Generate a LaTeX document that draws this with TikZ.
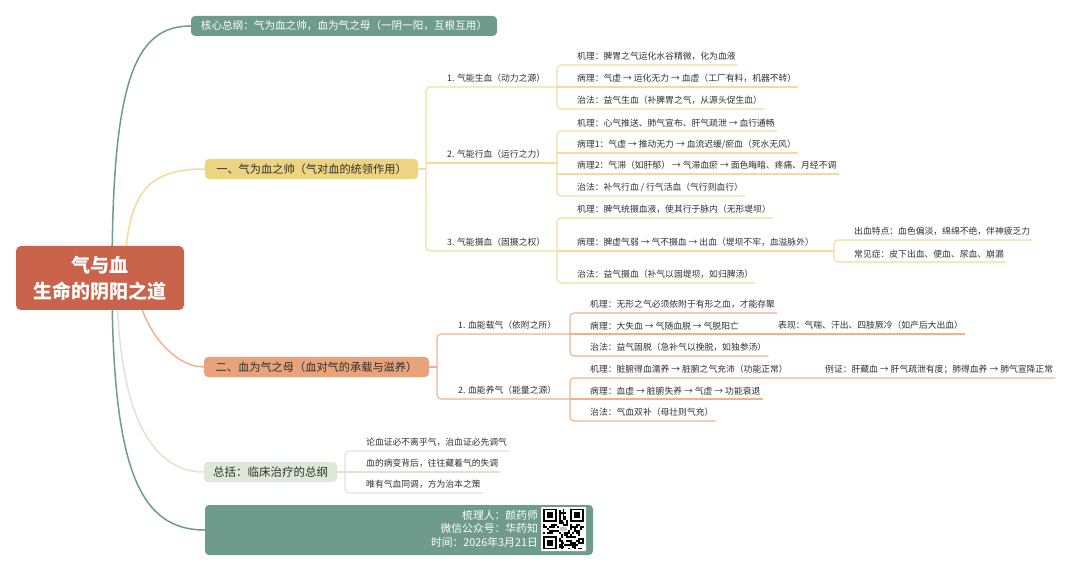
\documentclass[tikz,border=0pt]{standalone}
\usepackage{fontspec}
\setmainfont{Noto Sans CJK SC}
\usetikzlibrary{backgrounds}

\definecolor{teal0}{RGB}{111,155,140}
\definecolor{root0}{RGB}{201,99,76}
\definecolor{yel0}{RGB}{238,211,128}
\definecolor{yel1}{RGB}{242,220,156}
\definecolor{org0}{RGB}{233,163,122}
\definecolor{org1}{RGB}{238,178,142}
\definecolor{sum0}{RGB}{222,232,215}
\definecolor{sum1}{RGB}{220,228,216}
\definecolor{ink}{RGB}{48,48,48}

\tikzset{
  box/.style={rounded corners=4pt, inner xsep=8pt, inner ysep=0pt, minimum height=20pt},
  leaf/.style={anchor=south west, inner xsep=2pt, inner ysep=4pt, text=ink,
    font=\fontsize{8.8pt}{10pt}\selectfont},
  yline/.style={draw=yel1, line width=1.1pt, rounded corners=4pt},
  oline/.style={draw=org1, line width=1.1pt, rounded corners=4pt},
  sline/.style={draw=sum1, line width=1.1pt, rounded corners=4pt},
  curve/.style={line width=1.5pt},
}

\begin{document}
\begin{tikzpicture}[x=1pt,y=-1pt]
  \useasboundingbox (0,0) rectangle (1080,572);

  % root and first level
  \node[fill=root0, rounded corners=5pt, minimum width=168pt, minimum height=64pt, align=center,
    text=white, font=\fontsize{19pt}{26pt}\selectfont\bfseries] (root) at (100,278) {气与血\\生命的阴阳之道};
  \node[box, fill=teal0, text=white, minimum width=306pt, font=\fontsize{10.6pt}{12pt}\selectfont] (top) at (344,26)
    {核心总纲：气为血之帅，血为气之母（一阴一阳，互根互用）};
  \node[box, fill=yel0, text=ink, minimum width=213pt, font=\fontsize{11.2pt}{13pt}\selectfont] (b1) at (311.5,169)
    {一、气为血之帅（气对血的统领作用）\hspace{4pt}};
  \node[box, fill=org0, text=ink, minimum width=225pt, font=\fontsize{11.2pt}{13pt}\selectfont] (b2) at (316.5,367)
    {二、血为气之母（血对气的承载与滋养）\hspace{4pt}};
  \node[box, fill=sum0, text=ink, minimum width=133pt, font=\fontsize{11.5pt}{13pt}\selectfont] (sum) at (270.5,472)
    {总括：临床治疗的总纲};
  \node[fill=teal0, rounded corners=4pt, minimum width=388pt, minimum height=50pt] (foot) at (399,530) {};
  \node[anchor=east, align=right, text=white, inner sep=0pt, font=\fontsize{10.8pt}{13.5pt}\selectfont] (info) at (538,528.5)
    {梳理人：颜药师\\微信公众号：华药知\\时间：2026年3月21日};

  % qr code
  \node[fill=white, rounded corners=1pt, minimum width=45pt, minimum height=44pt, inner sep=0pt] (qr) at (563.5,529) {};
  \coordinate (q0) at (543,508.5);
  \pgfmathsetseed{17}
  \foreach \i in {0,...,20}{
    \foreach \j in {0,...,20}{
      \pgfmathrandominteger{\r}{0}{1}
      \ifnum\r=1 \fill ([shift={(\i*1.95,\j*1.95)}]q0) rectangle ++(1.95,1.95); \fi
    }
  }
  \foreach \a/\b in {0/0,14/0,0/14}{
    \fill[white] ([shift={(\a*1.95-1.95,\b*1.95-1.95)}]q0) rectangle ++(17.55,17.55);
    \fill ([shift={(\a*1.95,\b*1.95)}]q0) rectangle ++(13.65,13.65);
    \fill[white] ([shift={(\a*1.95+1.95,\b*1.95+1.95)}]q0) rectangle ++(9.75,9.75);
    \fill ([shift={(\a*1.95+3.9,\b*1.95+3.9)}]q0) rectangle ++(5.85,5.85);
  }
  \fill[white] ([shift={(8*1.95,9*1.95)}]q0) rectangle ++(9.75,5.85);
  \fill[gray!45, rounded corners=1pt] ([shift={(8.6*1.95,9.6*1.95)}]q0) rectangle ++(7.4,3.5);

  % curves from the root
  \begin{scope}[on background layer]
    \draw[curve, teal0] ([xshift=12pt]root.center) .. controls +(0,-198) and +(-56,0) .. (top.west);
    \draw[curve, teal0] ([xshift=12pt]root.center) .. controls +(0,192) and +(-65,0) .. (foot.west);
    \draw[curve, yel1] ([xshift=25pt]root.center) .. controls +(0,-88) and +(-55,0) .. (b1.west);
    \draw[curve, org1] ([xshift=35pt]root.center) .. controls +(5,52) and +(-29,0) .. (b2.west);
    \draw[curve, sum1] ([xshift=17pt]root.center) .. controls +(0,142) and +(-49,0) .. (sum.west);
  \end{scope}

  % 一、气为血之帅
  \coordinate (b1j) at (426,169);
  \coordinate (c11) at (557,87);
  \coordinate (c12) at (557,163);
  \coordinate (c13) at (557,251);
  \coordinate (c13b) at (834,251);
  \node[leaf] (g11) at (445,87) {1. 气能生血（动力之源）};
  \node[leaf] (g12) at (445,163) {2. 气能行血（运行之力）};
  \node[leaf] (g13) at (445,251) {3. 气能摄血（固摄之权）};
  \node[leaf] (m11) at (575,65) {机理：脾胃之气运化水谷精微，化为血液};
  \node[leaf] (p11) at (575,87) {病理：气虚 → 运化无力 → 血虚（工厂有料，机器不转）};
  \node[leaf] (z11) at (575,109) {治法：益气生血（补脾胃之气，从源头促生血）};
  \node[leaf] (m12) at (575,131) {机理：心气推送、肺气宣布、肝气疏泄 → 血行通畅};
  \node[leaf] (p12) at (575,153) {病理1：气虚 → 推动无力 → 血流迟缓/瘀血（死水无风）};
  \node[leaf] (q12) at (575,174) {病理2：气滞（如肝郁） → 气滞血瘀 → 面色晦暗、疼痛、月经不调};
  \node[leaf] (z12) at (575,196) {治法：补气行血 / 行气活血（气行则血行）};
  \node[leaf] (m13) at (575,218) {机理：脾气统摄血液，使其行于脉内（无形堤坝）};
  \node[leaf] (p13) at (575,251) {病理：脾虚气弱 → 气不摄血 → 出血（堤坝不牢，血溢脉外）};
  \node[leaf] (z13) at (575,283) {治法：益气摄血（补气以固堤坝，如归脾汤）};
  \node[leaf] (t13) at (852,240) {出血特点：血色偏淡，绵绵不绝，伴神疲乏力};
  \node[leaf] (s13) at (852,262) {常见症：皮下出血、便血、尿血、崩漏};

  \draw[yline] (b1.east) -- (b1j);
  \draw[yline] (c11) -- (g11.south west -| b1j) -- (g13.south west -| b1j) -- (c13);
  \draw[yline] (g12.south west -| b1j) -- (c12);
  \draw[yline] (m11.south east) -- (m11.south west -| c11) -- (z11.south west -| c11) -- (z11.south east);
  \draw[yline] (c11) -- (p11.south east);
  \draw[yline] (m12.south east) -- (m12.south west -| c12) -- (z12.south west -| c12) -- (z12.south east);
  \draw[yline] (p12.south west -| c12) -- (p12.south east);
  \draw[yline] (q12.south west -| c12) -- (q12.south east);
  \draw[yline] (m13.south east) -- (m13.south west -| c13) -- (z13.south west -| c13) -- (z13.south east);
  \draw[yline] (c13) -- (c13b);
  \draw[yline] (t13.south east) -- (t13.south west -| c13b) -- (s13.south west -| c13b) -- (s13.south east);

  % 二、血为气之母
  \coordinate (b2j) at (437,367);
  \coordinate (c21) at (570,334);
  \coordinate (c22) at (570,399);
  \node[leaf] (g21) at (456,334) {1. 血能载气（依附之所）};
  \node[leaf] (g22) at (456,399) {2. 血能养气（能量之源）};
  \node[leaf] (m21) at (588,313) {机理：无形之气必须依附于有形之血，才能存聚};
  \node[leaf] (p21) at (588,334) {病理：大失血 → 气随血脱 → 气脱阳亡};
  \node[leaf] (x21) at (776,334) {表现：气喘、汗出、四肢厥冷（如产后大出血）};
  \node[leaf] (z21) at (588,356) {治法：益气固脱（急补气以挽脱，如独参汤）};
  \node[leaf] (m22) at (588,378) {机理：脏腑得血濡养 → 脏腑之气充沛（功能正常）};
  \node[leaf] (e22) at (823,378) {例证：肝藏血 → 肝气疏泄有度；肺得血养 → 肺气宣降正常};
  \node[leaf] (p22) at (588,399) {病理：血虚 → 脏腑失养 → 气虚 → 功能衰退};
  \node[leaf] (z22) at (588,421) {治法：气血双补（母壮则气充）};

  \draw[oline] (b2.east) -- (b2j);
  \draw[oline] (c21) -- (g21.south west -| b2j) -- (g22.south west -| b2j) -- (c22);
  \draw[oline] (m21.south east) -- (m21.south west -| c21) -- (z21.south west -| c21) -- (z21.south east);
  \draw[oline] (c21) -- (x21.south east);
  \draw[oline] (e22.south east) -- (m22.south west -| c22) -- (z22.south west -| c22) -- (z22.south east);
  \draw[oline] (c22) -- (p22.south east);

  % 总括
  \coordinate (sj) at (345,472);
  \node[leaf] (s1) at (364,451) {论血证必不离乎气，治血证必先调气};
  \node[leaf] (s2) at (364,472) {血的病变背后，往往藏着气的失调};
  \node[leaf] (s3) at (364,493) {唯有气血同调，方为治本之策};

  \draw[sline] (sum.east) -- (sj);
  \draw[sline] (s1.south east) -- (s1.south west -| sj) -- (s3.south west -| sj) -- (s3.south east);
  \draw[sline] (sj) -- (s2.south east);
\end{tikzpicture}
\end{document}
